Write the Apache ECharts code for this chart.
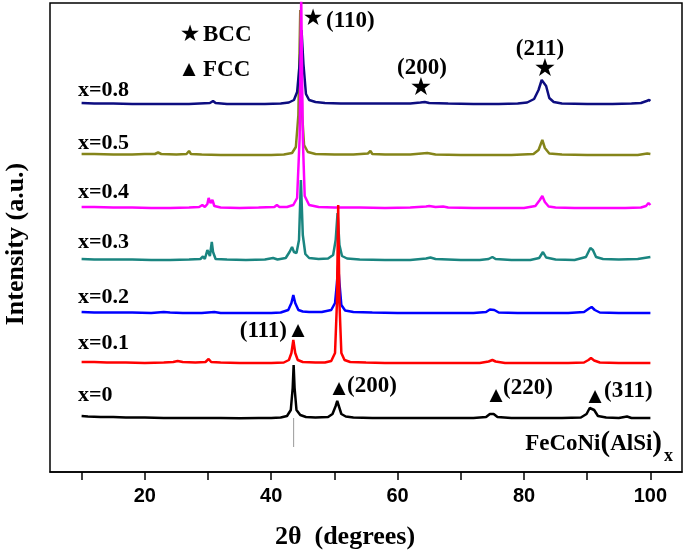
<!DOCTYPE html>
<html>
<head>
<meta charset="utf-8">
<script src="https://cdn.jsdelivr.net/npm/echarts@6/dist/echarts.min.js"></script>
<style>html,body{margin:0;padding:0;background:#fff}#c{width:685px;height:550px}</style>
</head>
<body>
<div id="c"></div>
<script>
// Sample labels, vertical offsets (intensity units)
const sampleNames = ['x=0', 'x=0.1', 'x=0.2', 'x=0.3', 'x=0.4', 'x=0.5', 'x=0.8'];
const offsets = [54, 109, 159, 212, 264, 317, 368];

const xTicks = [10, 20, 30, 40, 50, 60, 70, 80, 90, 100];
const xTickLabels = [20, 40, 60, 80, 100];

// Patterns: [2theta, intensity above own baseline]
const x0 = [[10,2],[11,1.5],[13,1],[15,1],[17,0.5],[20,0.5],[23,0],[26,0],[29,0],[32,0],[35,-0.3],[38,0],[40,0],[41.5,0.5],[42.5,2],[43.1,8],[43.4,30],[43.55,53],[43.7,30],[44.0,8],[44.6,3],[45.5,1],[47,0.5],[49,1],[49.7,4],[50.2,12],[50.45,17],[50.7,12],[51.1,4],[51.8,1.5],[53,0.5],[56,0],[60,0],[64,0],[68,0],[72,0],[74,1],[74.6,4],[74.9,6],[75.2,4],[75.8,1],[78,0],[82,0],[86,0],[89,0.5],[89.9,4],[90.4,10],[90.7,12],[91.1,8],[91.7,2],[93,0.5],[95,0],[96.3,1.5],[96.6,2],[97,0],[98,0],[100,0]];
const x01 = [[10,1],[12,1],[14,0.5],[17,0.5],[20,0],[23,0.5],[24.5,1],[25.2,2],[26,1],[28,0.5],[29.6,1],[30.1,4],[30.5,1],[32,0.5],[35,0],[38,0],[40,0],[42,0.5],[42.8,3],[43.2,10],[43.5,23],[43.8,10],[44.2,3],[45,1],[47,0.5],[48.5,0.5],[49.5,2],[50.1,10],[50.4,60],[50.6,158],[50.8,60],[51.1,10],[51.6,3],[52.5,1],[55,0.5],[58,0],[62,0],[66,0],[70,0],[73,0],[74.4,1.5],[75,3],[75.5,1.5],[77,0],[80,0],[84,0],[87,0],[89.5,0.5],[90.2,3],[90.6,5],[91.1,2.5],[92,0.5],[95,0],[98,0],[100,0]];
const x02 = [[10,1],[12,0.5],[15,0.5],[18,0.5],[21,0],[23,1],[24,0.5],[26,0],[29,0],[31,1],[32,0],[35,0],[38,0],[40,0],[41.5,0.5],[42.7,3],[43.2,10],[43.5,18],[43.8,10],[44.3,3],[45,1.5],[46,1],[48,1],[49.5,3],[50.1,10],[50.4,30],[50.6,48],[50.8,30],[51.1,8],[51.7,2.5],[53,1],[56,0.5],[60,0],[64,0],[68,0],[72,0],[74,1],[74.6,3.5],[74.9,5],[75.3,3],[76,0.5],[79,0],[83,0],[87,0],[89.5,1],[90.3,4.5],[90.7,6],[91.2,3],[92,0.5],[95,0],[100,0]];
const x03 = [[10,1],[12,0.5],[15,0.5],[18,0.5],[21,0],[24,0],[27,0.5],[28.8,1],[29.2,3.5],[29.5,1],[29.9,10],[30.1,12],[30.3,4],[30.6,18],[30.8,8],[31.2,1],[33,0.5],[36,0],[39,0.5],[40.3,2],[41,0.5],[42.3,2],[42.9,8],[43.3,13],[43.6,8],[44.0,7],[44.4,20],[44.7,80],[45.0,25],[45.4,6],[46,2],[47.5,1],[49,1.5],[49.8,5],[50.2,20],[50.5,47],[50.8,15],[51.2,4],[52,1.5],[54,0.5],[58,0],[62,0],[64.5,1.5],[65.2,2.5],[66,1],[70,0],[73,0],[74.4,1],[75,3],[75.5,1],[78,0],[81,0],[82.4,2],[83.0,8],[83.5,2.5],[85,0.5],[88,0],[89.8,3],[90.5,12],[90.9,10],[91.4,3],[92.5,1],[95,0.5],[98,1],[99.5,2.5],[100,3]];
const x04 = [[10,1],[12,1],[15,0.5],[18,0.5],[21,0],[24,0],[27,0.5],[28.6,1],[29.1,3],[29.5,1],[29.9,4],[30.1,10],[30.4,5],[30.7,8],[31,2],[32,0.5],[35,0],[38,0.5],[40.5,1],[40.9,3],[41.3,1],[42.5,1],[43.5,3],[44.1,10],[44.5,70],[44.75,210],[45.0,70],[45.3,12],[46,3],[47.5,1],[50,0.5],[54,0.5],[58,0],[62,0.5],[64.5,1.5],[65,2],[66,1],[67.2,1.5],[68,0.5],[72,0],[76,0],[80,0],[81.8,2],[82.5,8],[82.9,12],[83.3,6],[83.9,1.5],[85,0.5],[88,0],[92,0],[96,0],[98.5,0.5],[99.3,2],[99.7,5],[100,3]];
const x05 = [[10,1],[12,1],[15,0.5],[18,0.5],[20,1],[21.6,1],[22.1,2.5],[22.6,1],[25,0.5],[26.6,1],[27,4],[27.3,1],[29,0.5],[32,0],[36,0],[40,0],[42,0.5],[43.3,2],[43.9,8],[44.3,40],[44.6,145],[44.9,40],[45.2,10],[45.8,3],[47,1],[50,0.5],[53,0.5],[55.3,1.5],[55.7,4],[56,1],[58,0.5],[62,0.5],[64.7,2],[66,0.5],[70,0],[74,0],[78,0],[81.5,1],[82.3,5],[82.9,15],[83.3,7],[84,1.5],[86,0.5],[90,0],[94,0],[98,0],[99.5,1.5],[100,1]];
const x08 = [[10,1],[12,0.5],[15,0.5],[18,0],[21,0],[24,0],[27,0],[30.3,1],[30.8,3],[31.2,1],[33,0],[36,0],[39,0],[41.5,0.5],[42.8,1.5],[43.6,4],[44.1,12],[44.5,40],[44.8,74],[45.1,40],[45.5,10],[46,4],[47,2],[48.5,1],[51,0.5],[55,0.5],[59,0.5],[62,0.5],[63.6,1.5],[64.3,2],[65,1],[68,0.5],[72,0],[76,0],[79,0.5],[80.5,1.5],[81.6,5],[82.3,14],[82.8,24],[83.1,26],[83.5,18],[84,6],[84.7,2],[86,0.5],[90,0],[94,0],[97,0.5],[98.5,1],[99.4,3],[99.8,4],[100,3]];
const patterns = [x0, x01, x02, x03, x04, x05, x08];
const colors = ['#000000', '#ff0000', '#0000ff', '#1a8580', '#ff00ff', '#85851a', '#0d0d80'];
const drawOrder = [0, 2, 3, 5, 6, 4, 1];
// thin grey reference line under the x=0 (111) peak
const guideLine = [[43.55, 25], [43.55, 54]];

const SERIF = '"Liberation Serif","Times New Roman",serif';
const SANS = '"Liberation Sans",Arial,sans-serif';
const SYM = '"DejaVu Sans",sans-serif';

const series = [{
  type: 'line', data: guideLine, showSymbol: false, silent: true,
  lineStyle: { color: '#9a9a9a', width: 1 }, z: 1
}];
drawOrder.forEach((i, k) => {
  series.push({
    name: sampleNames[i], type: 'line', showSymbol: false, smooth: false,
    data: patterns[i].map(p => [p[0], p[1] + offsets[i]]),
    lineStyle: { color: colors[i], width: 2.5 }, itemStyle: { color: colors[i] },
    z: 2 + k, clip: true
  });
});

function txt(x, y, text, opt) {
  opt = opt || {};
  return {
    type: 'text', x: x, y: y, z: 100,
    style: {
      text: text, fill: '#000',
      font: (opt.weight || 'bold') + ' ' + (opt.size || 20) + 'px ' + (opt.family || SERIF),
      textAlign: opt.align || 'left', textVerticalAlign: 'middle'
    }
  };
}
const star = (x, y, s) => txt(x, y, '★', { size: s || 22, family: SYM, weight: 'normal', align: 'center' });
const tri = (x, y, s) => txt(x, y, '▲', { size: s || 17, family: SYM, weight: 'normal', align: 'center' });

const labelY = [395, 343, 297, 242, 192, 143, 90];
const graphics = [];
sampleNames.forEach((n, i) => graphics.push(txt(78, labelY[i], n, { size: 22 })));
graphics.push(
  star(190, 35, 23), txt(203, 35, 'BCC', { size: 23 }),
  tri(189, 70, 17), txt(203, 70, 'FCC', { size: 23 }),
  star(313, 19, 23), txt(326, 21, '(110)', { size: 23 }),
  txt(422, 68, '(200)', { size: 23, align: 'center' }), star(421, 88, 25),
  txt(540, 49, '(211)', { size: 23, align: 'center' }), star(545, 69, 25),
  txt(287, 331, '(111)', { size: 23, align: 'right' }), tri(298, 331, 17),
  tri(339, 389, 17), txt(347, 386, '(200)', { size: 23 }),
  tri(496, 396, 17), txt(503, 388, '(220)', { size: 23 }),
  tri(595, 397, 17), txt(604, 391, '(311)', { size: 23 }),
  {
    type: 'text', x: 662, y: 444, z: 100,
    style: {
      text: '{a|FeCoNi}{p|(}{a|AlSi}{p|)}', textAlign: 'right', textVerticalAlign: 'middle',
      rich: {
        a: { font: 'bold 23px ' + SERIF, fill: '#000' },
        p: { font: 'bold 29px ' + SERIF, fill: '#000' }
      }
    }
  },
  txt(664, 456, 'x', { size: 18 }),
  txt(345, 537, '2θ  (degrees)', { size: 26, align: 'center' }),
  {
    type: 'text', x: 16, y: 244, rotation: Math.PI / 2, z: 100,
    style: {
      text: 'Intensity (a.u.)', fill: '#000', font: 'bold 26px ' + SERIF,
      textAlign: 'center', textVerticalAlign: 'middle'
    }
  }
);

const chart = echarts.init(document.getElementById('c'), null, { renderer: 'canvas' });
chart.setOption({
  animation: false,
  backgroundColor: '#fff',
  grid: { left: 50, right: 3, top: 3, bottom: 78, show: true, borderColor: '#000', borderWidth: 1.5, containLabel: false },
  xAxis: {
    type: 'value', min: 5, max: 105,
    axisLine: { show: true, lineStyle: { color: '#000', width: 1.5 } },
    axisTick: { show: true, customValues: xTicks, length: 8, inside: false, lineStyle: { color: '#000', width: 1.5 } },
    axisLabel: { customValues: xTickLabels, color: '#000', fontFamily: SANS, fontWeight: 'bold', fontSize: 20, margin: 14 },
    splitLine: { show: false }
  },
  yAxis: { type: 'value', min: 0, max: 469, show: false, splitLine: { show: false } },
  series: series,
  graphic: graphics
});
</script>
</body>
</html>
